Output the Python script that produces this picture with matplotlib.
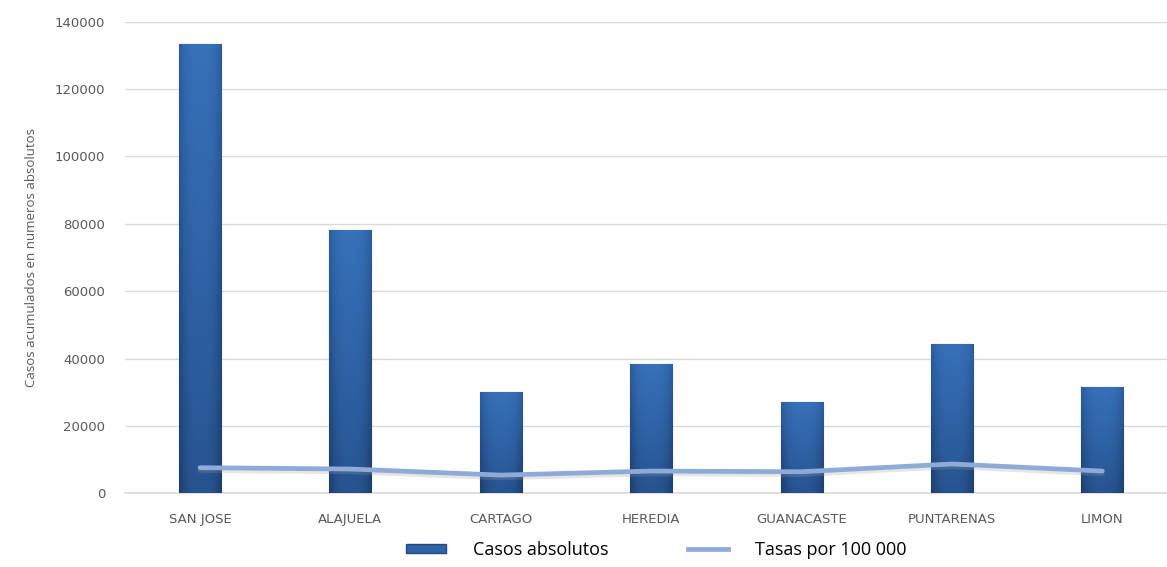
import numpy as np
import matplotlib.pyplot as plt
import matplotlib.patheffects as pe
from matplotlib.patches import Patch
from matplotlib.lines import Line2D
from matplotlib.colors import LinearSegmentedColormap

# data
provincias = ["SAN JOSE", "ALAJUELA", "CARTAGO", "HEREDIA", "GUANACASTE", "PUNTARENAS", "LIMON"]
casos_absolutos = [133300, 78200, 30000, 38500, 27000, 44200, 31600]
tasas_100k = [7600, 7200, 5400, 6600, 6400, 8700, 6600]
y_ticks = [0, 20000, 40000, 60000, 80000, 100000, 120000, 140000]

plt.rcParams['font.family'] = ['Open Sans', 'DejaVu Sans']

fig = plt.figure(figsize=(11.67, 5.67), dpi=100)
ax = fig.add_axes([0.107, 0.130, 0.893, 0.8317])

x = np.arange(len(provincias))
bar_w = 0.28

# bars with a cylinder-like shading
bars = ax.bar(x, casos_absolutos, width=bar_w, color="#2f63a8",
              edgecolor="#24497e", linewidth=0.8, zorder=2)
horiz = np.abs(np.linspace(-1, 1, 64))
vert = np.linspace(0, 1, 128)[:, None]
shade = 0.5 + 0.3 * vert - 0.22 * horiz[None, :] ** 3
cmap = LinearSegmentedColormap.from_list("azul", ["#1d3f70", "#2b5c9c", "#3a76c0"])
for b in bars:
    x0, w, h = b.get_x(), b.get_width(), b.get_height()
    im = ax.imshow(shade, extent=[x0, x0 + w, 0, h], origin="lower",
                   cmap=cmap, vmin=0.3, vmax=0.85, aspect="auto", zorder=2)
    im.set_clip_path(b)

# rate line
ax.plot(x, tasas_100k, color="#8eaad8", linewidth=3.4, solid_capstyle="round", zorder=4,
        path_effects=[pe.SimpleLineShadow(offset=(0, -2), shadow_color="#999999", alpha=0.25),
                      pe.Normal()])

ax.set_xlim(-0.5, 6.43)
ax.set_ylim(0, 140000)
ax.set_yticks(y_ticks)
ax.set_yticklabels([str(v) for v in y_ticks], fontsize=9.5, color="#595959", family="DejaVu Sans")
ax.set_xticks(x)
ax.set_xticklabels(provincias, fontsize=9.5, color="#595959", family="DejaVu Sans")
ax.tick_params(axis="y", length=0, pad=14)
ax.tick_params(axis="x", length=0, pad=14)
ax.grid(axis="y", color="#d9d9d9", linewidth=1, zorder=0)
ax.axhline(0, color="#d9d9d9", linewidth=1.2, zorder=1, clip_on=False)
ax.set_axisbelow(True)
for s in ax.spines.values():
    s.set_visible(False)

ax.set_ylabel("Casos acumulados en numeros absolutos", fontsize=9.5, color="#595959", labelpad=12)

handles = [Patch(facecolor="#2f63a8", edgecolor="#24497e"),
           Line2D([0], [0], color="#8eaad8", linewidth=3.4)]
fig.legend(handles, ["Casos absolutos", "Tasas por 100 000"], loc="center",
           bbox_to_anchor=(0.5625, 0.03), ncol=2, frameon=False, fontsize=13,
           handlelength=2.2, handleheight=0.4, columnspacing=4.4, handletextpad=1.5)

fig.savefig("out.png", dpi=100)
